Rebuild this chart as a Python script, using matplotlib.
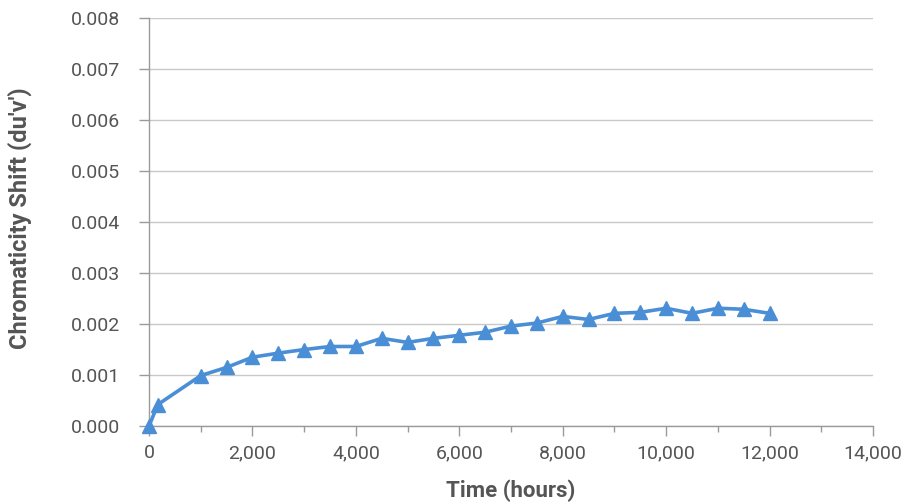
import matplotlib.pyplot as plt
from matplotlib.ticker import FuncFormatter, MultipleLocator

plt.rcParams['font.family'] = ['Roboto', 'DejaVu Sans']

# hours of operation and measured chromaticity shift (du'v')
hours = [0, 168, 1000, 1500, 2000, 2500, 3000, 3500, 4000, 4500, 5000, 5500,
         6000, 6500, 7000, 7500, 8000, 8500, 9000, 9500, 10000, 10500,
         11000, 11500, 12000]
shift = [0.0, 0.00042, 0.00099, 0.00115, 0.00135, 0.00143, 0.0015, 0.00156,
         0.00156, 0.00172, 0.00164, 0.00172, 0.00178, 0.00184, 0.00196,
         0.00202, 0.00215, 0.00209, 0.00221, 0.00223, 0.00231, 0.00221,
         0.00231, 0.00229, 0.00221]

blue = '#4a8fd6'
grey = '#555555'

fig = plt.figure(figsize=(9.06, 5.03), dpi=100)
ax = fig.add_axes([0.1645, 0.153, 0.7991, 0.811])

ax.plot(hours, shift, color=blue, lw=2.6, marker='^', ms=10,
        markeredgecolor=blue, markerfacecolor=blue, clip_on=False, zorder=3)

ax.set_xlim(0, 14000)
ax.set_ylim(0, 0.008)
ax.xaxis.set_major_locator(MultipleLocator(2000))
ax.xaxis.set_minor_locator(MultipleLocator(1000))
ax.yaxis.set_major_locator(MultipleLocator(0.001))
ax.xaxis.set_major_formatter(FuncFormatter(lambda v, p: f'{int(v):,}'))
ax.yaxis.set_major_formatter(FuncFormatter(lambda v, p: f'{v:.3f}'))

ax.grid(axis='y', color='#c8c8c8', lw=1)
ax.set_axisbelow(True)
for s in ['top', 'right']:
    ax.spines[s].set_visible(False)
for s in ['left', 'bottom']:
    ax.spines[s].set_color('#9a9a9a')
    ax.spines[s].set_linewidth(1)

ax.tick_params(axis='both', which='major', colors='#9a9a9a', labelcolor=grey,
               labelsize=14, length=7, width=1)
ax.tick_params(axis='x', which='minor', colors='#9a9a9a', length=4, width=1)
ax.tick_params(axis='y', pad=14)
ax.tick_params(axis='x', pad=6)

ax.set_xlabel('Time (hours)', fontsize=16, fontweight='bold', color=grey,
              va='center')
ax.set_ylabel("Chromaticity Shift (du'v')", fontsize=17, fontweight='bold',
              color=grey, va='center')
ax.xaxis.set_label_coords(0.5, -0.159)
ax.yaxis.set_label_coords(-0.178, 0.51)

fig.savefig('out.png', dpi=100)
